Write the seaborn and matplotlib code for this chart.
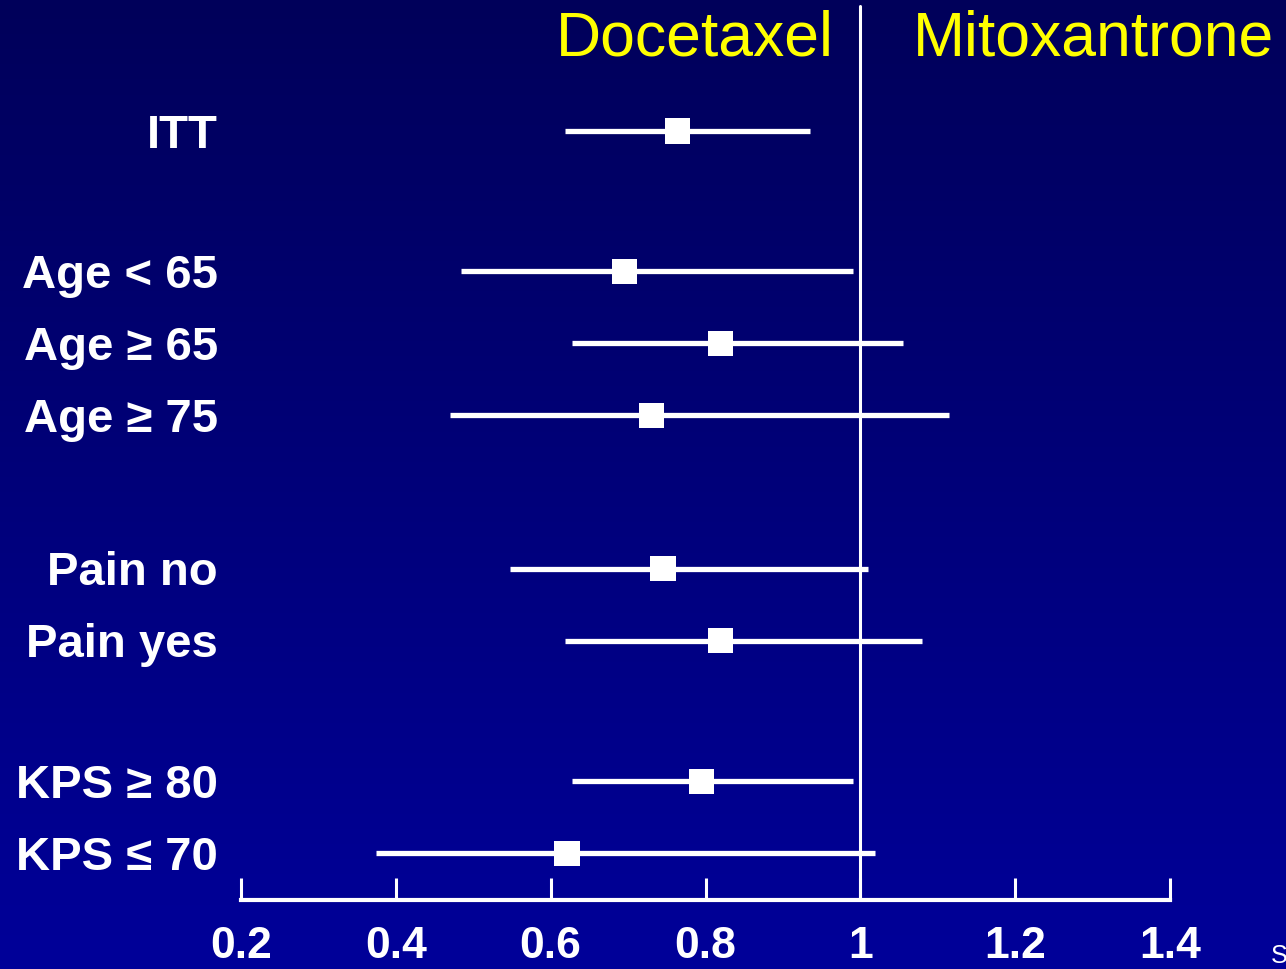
import numpy as np
import matplotlib
matplotlib.use("Agg")
import matplotlib.pyplot as plt
import matplotlib.transforms as mtransforms
import seaborn as sns
import pandas as pd
from matplotlib.colors import LinearSegmentedColormap

sns.set_theme(style="white")
plt.rcParams['font.family'] = ['Liberation Sans', 'DejaVu Sans']

# subgroup hazard ratios with 95% CI
groups = ["ITT", "Age < 65", "Age \u2265 65", "Age \u2265 75",
          "Pain no", "Pain yes", "KPS \u2265 80", "KPS \u2264 70"]
row_pos = [0.0, 1.95, 2.95, 3.95, 6.08, 7.08, 9.03, 10.03]
hr = [0.764, 0.695, 0.819, 0.730, 0.745, 0.819, 0.795, 0.621]
ci_low = [0.619, 0.484, 0.628, 0.470, 0.548, 0.619, 0.628, 0.374]
ci_high = [0.935, 0.991, 1.055, 1.115, 1.010, 1.080, 0.991, 1.019]
xticks = [0.2, 0.4, 0.6, 0.8, 1.0, 1.2, 1.4]
xtick_labels = ["0.2", "0.4", "0.6", "0.8", "1", "1.2", "1.4"]

df = pd.DataFrame({"group": groups, "y": row_pos, "hr": hr,
                   "lo": ci_low, "hi": ci_high})

W, H = 1286, 969
fig = plt.figure(figsize=(W / 100, H / 100), dpi=100)

# background gradient
bg = fig.add_axes([0, 0, 1, 1])
grad = np.linspace(0, 1, 256).reshape(-1, 1)
cmap = LinearSegmentedColormap.from_list("bg", ["#00005a", "#000099"])
bg.imshow(grad, aspect="auto", cmap=cmap, extent=[0, 1, 0, 1], origin="upper")
bg.set_axis_off()

# plot area: x 0.2 -> 241px, 1.4 -> 1170px; y from top (0px) to axis line (900px)
left, right, top, bottom = 241, 1170, 0, 900
ax = fig.add_axes([left / W, 1 - bottom / H, (right - left) / W, (bottom - top) / H])
ax.set_facecolor("none")
ax.set_xlim(0.2, 1.4)
ax.set_ylim((900 - 131) / 72, (0 - 131) / 72)

ax.hlines(df["y"], df["lo"], df["hi"], color="white", lw=3.8, zorder=2)
sns.scatterplot(data=df, x="hr", y="y", marker="s", s=330, color="white",
                edgecolor="none", ax=ax, zorder=3, legend=False)
ax.axvline(1.0, ymin=0, ymax=(900 - 6) / 900, color="white", lw=2.2, zorder=1)

for sp in ["top", "right", "left"]:
    ax.spines[sp].set_visible(False)
ax.spines["bottom"].set_color("white")
ax.spines["bottom"].set_linewidth(3)
ax.set_yticks([])
ax.set_xticks(xticks)
ax.set_xticklabels(xtick_labels)
ax.tick_params(axis="x", bottom=True, direction="in", length=16, width=2.2,
               color="white", labelcolor="white", pad=19)
for lab in ax.get_xticklabels():
    lab.set_fontweight("bold")
    lab.set_fontsize(32)
ax.set_xlabel("")
ax.set_ylabel("")

# row labels, baseline ~17px below row centre
lab_off = mtransforms.offset_copy(ax.get_yaxis_transform(), fig=fig, x=0, y=-12, units="points")
for g, y in zip(groups, row_pos):
    ax.text(-0.025, y, g, transform=lab_off, ha="right",
            va="baseline", color="white", fontsize=34, fontweight="bold")

# headers
fig.text(695 / W, 1 - 56 / H, "Docetaxel", ha="center", va="baseline",
         color="#ffff00", fontsize=45)
fig.text(1093 / W, 1 - 56 / H, "Mitoxantrone", ha="center", va="baseline",
         color="#ffff00", fontsize=45)
fig.text(1271 / W, 1 - 963 / H, "S", ha="left", va="baseline", color="white",
         fontsize=18)

fig.savefig("out.png", dpi=100)
